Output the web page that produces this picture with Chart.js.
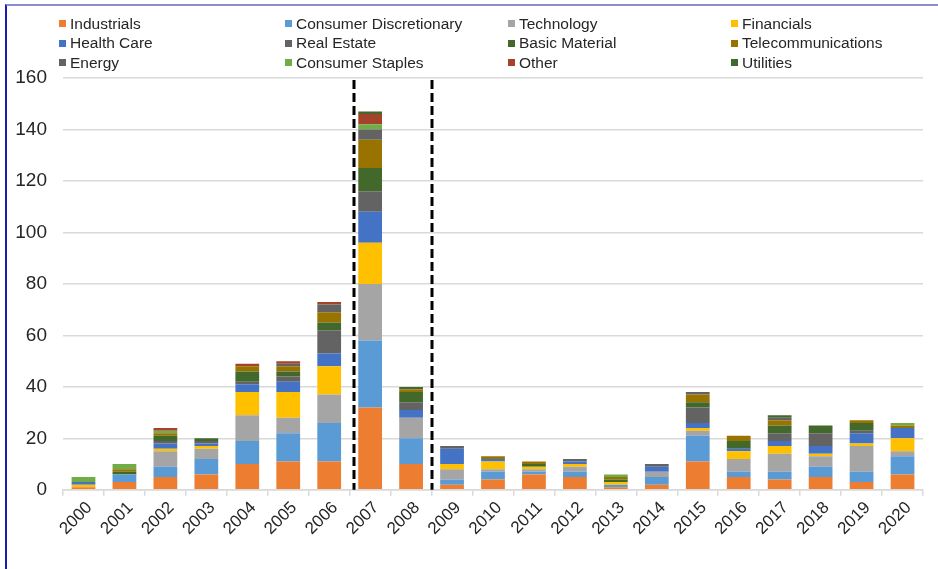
<!DOCTYPE html>
<html>
<head>
<meta charset="utf-8">
<script src="https://cdn.jsdelivr.net/npm/chart.js@4.4.1/dist/chart.umd.min.js"></script>
<style>
  html, body { margin: 0; padding: 0; background: #fff; }
  body { width: 938px; height: 569px; overflow: hidden; position: relative; font-family: "Liberation Sans", Arial, sans-serif; }
  #frame { position: absolute; left: 5px; top: 4px; right: 0; bottom: 0; border-top: 2px solid #8c8cd2; border-left: 2px solid #1a1ab4; }
  #wrap { position: absolute; left: 7px; top: 6px; width: 931px; height: 563px; }
  #legend { position: absolute; left: 59px; top: 14px; display: grid; grid-template-columns: 226px 223px 223px 180px; }
  .item { display: flex; align-items: center; height: 19.5px; font-size: 15.5px; color: #262626; white-space: nowrap; }
  .sw { width: 7px; height: 7px; margin-right: 4px; flex: none; }
</style>
</head>
<body>
<div id="frame"></div>
<div id="wrap"><canvas id="c"></canvas></div>
<div id="legend"></div>
<script>
// IPO counts by sector, 2000-2020 (stacked)
const years = ["2000","2001","2002","2003","2004","2005","2006","2007","2008","2009","2010",
  "2011","2012","2013","2014","2015","2016","2017","2018","2019","2020"];

const industrials     = [1, 3, 5, 6, 10, 11, 11, 32, 10, 2, 4, 6, 5, 1, 2, 11, 5, 4, 5, 3, 6];
const consumerDisc    = [0, 3, 4, 6, 9, 11, 15, 26, 10, 2, 3, 1, 2, 1, 3, 10, 2, 3, 4, 4, 7];
const technology      = [0, 0, 6, 4, 10, 6, 11, 22, 8, 4, 1, 1, 2, 0, 2, 2, 5, 7, 4, 10, 2];
const financials      = [1, 0, 1, 1, 9, 10, 11, 16, 0, 2, 3, 1, 1, 1, 0, 1, 3, 3, 1, 1, 5];
const healthCare      = [1, 0, 2, 1, 3, 4, 5, 12, 3, 6, 1, 0, 1, 0, 2, 2, 1, 2, 3, 4, 4];
const realEstate      = [0, 0, 1, 1, 1, 2, 9, 8, 3, 1, 0, 0, 1, 0, 1, 6, 0, 3, 5, 1, 0];
const basicMaterial   = [0, 1, 2, 1, 4, 2, 3, 9, 4, 0, 0, 1, 0, 1, 0, 2, 3, 3, 3, 3, 0];
const telecom         = [0, 1, 1, 0, 2, 2, 4, 11, 1, 0, 1, 1, 0, 1, 0, 3, 2, 2, 0, 1, 1];
const energy          = [0, 0, 0, 0, 0, 1, 3, 4, 0, 0, 0, 0, 0, 0, 0, 1, 0, 1, 0, 0, 0];
const consumerStaples = [2, 2, 1, 0, 0, 0, 0, 2, 0, 0, 0, 0, 0, 1, 0, 0, 0, 0, 0, 0, 1];
const other           = [0, 0, 1, 0, 1, 1, 1, 4, 0, 0, 0, 0, 0, 0, 0, 0, 0, 0, 0, 0, 0];
const utilities       = [0, 0, 0, 0, 0, 0, 0, 1, 1, 0, 0, 0, 0, 0, 0, 0, 0, 1, 0, 0, 0];

const yTicks = { min: 0, max: 160, step: 20 };

// dashed separators, in category units (between 2006/2007 and 2008/2009)
const periodMarks = [6.6, 8.5];

const series = [
  ["Industrials", industrials, "#ED7D31"],
  ["Consumer Discretionary", consumerDisc, "#5B9BD5"],
  ["Technology", technology, "#A5A5A5"],
  ["Financials", financials, "#FFC000"],
  ["Health Care", healthCare, "#4472C4"],
  ["Real Estate", realEstate, "#636363"],
  ["Basic Material", basicMaterial, "#43682B"],
  ["Telecommunications", telecom, "#997300"],
  ["Energy", energy, "#636363"],
  ["Consumer Staples", consumerStaples, "#70AD47"],
  ["Other", other, "#A5432A"],
  ["Utilities", utilities, "#43682B"],
];

const periodLines = {
  id: "periodLines",
  afterDatasetsDraw(chart) {
    const { ctx, chartArea, scales } = chart;
    const xs = scales.x;
    ctx.save();
    ctx.strokeStyle = "#000";
    ctx.lineWidth = 3;
    ctx.setLineDash([9, 4]);
    periodMarks.forEach(v => {
      const i = Math.floor(v);
      const p0 = xs.getPixelForTick(i), p1 = xs.getPixelForTick(i + 1);
      const px = Math.round(p0 + (p1 - p0) * (v - i));
      ctx.beginPath();
      ctx.moveTo(px, chartArea.top + 2);
      ctx.lineTo(px, chartArea.bottom);
      ctx.stroke();
    });
    ctx.restore();
  }
};

const chart = new Chart(document.getElementById("c").getContext("2d"), {
  type: "bar",
  data: {
    labels: years,
    datasets: series.map(([label, data, color]) => ({
      label, data,
      backgroundColor: color,
      borderWidth: 0,
      categoryPercentage: 1,
      barPercentage: 0.58,
    })),
  },
  options: {
    responsive: true,
    maintainAspectRatio: false,
    animation: false,
    layout: { padding: { top: 72, left: 8, right: 15, bottom: 28 } },
    scales: {
      x: {
        stacked: true,
        grid: { drawOnChartArea: false, drawTicks: true, tickLength: 6, offset: true, color: "#d9d9d9", lineWidth: 1.5 },
        border: { display: true, color: "#d9d9d9", width: 1.5 },
        ticks: { color: "#262626", font: { family: "Liberation Sans", size: 17 }, minRotation: 45, maxRotation: 45, padding: 2, labelOffset: 6 },
      },
      y: {
        stacked: true,
        min: yTicks.min, max: yTicks.max,
        // chart.js reserves the tick padding twice; keep only label + one padding
        afterFit(scale) { scale.width = 48; },
        grid: { color: "#d9d9d9", lineWidth: 1.5, drawTicks: false },
        border: { display: false },
        ticks: { stepSize: yTicks.step, color: "#262626", font: { family: "Liberation Sans", size: 19 }, padding: 16 },
      },
    },
    plugins: {
      legend: { display: false },
      tooltip: { enabled: false },
    },
  },
  plugins: [periodLines],
});

// HTML legend, 4 columns like the original
const legendEl = document.getElementById("legend");
chart.data.datasets.forEach(ds => {
  const item = document.createElement("div");
  item.className = "item";
  const sw = document.createElement("span");
  sw.className = "sw";
  sw.style.background = ds.backgroundColor;
  const txt = document.createElement("span");
  txt.textContent = ds.label;
  item.appendChild(sw);
  item.appendChild(txt);
  legendEl.appendChild(item);
});
</script>
</body>
</html>
